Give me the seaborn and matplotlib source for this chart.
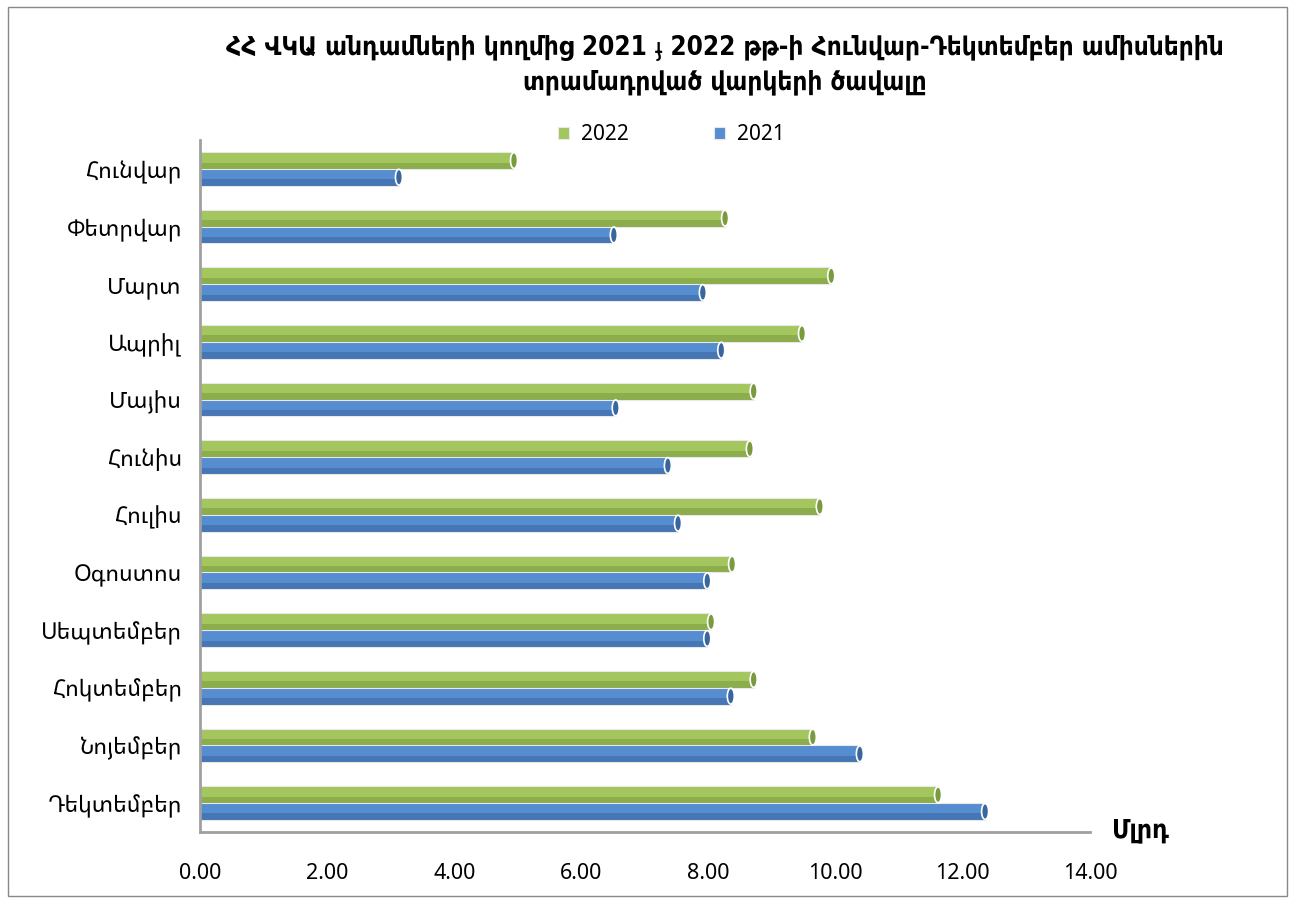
import pandas as pd
import numpy as np
import matplotlib
matplotlib.use("Agg")
import matplotlib.pyplot as plt
import seaborn as sns
from matplotlib.patches import Rectangle, Ellipse

# Data (billions)
months = ["Հունվար", "Փետրվար", "Մարտ", "Ապրիլ", "Մայիս", "Հունիս",
          "Հուլիս", "Օգոստոս", "Սեպտեմբեր", "Հոկտեմբեր", "Նոյեմբեր", "Դեկտեմբեր"]
values_2022 = [4.94, 8.26, 9.93, 9.47, 8.71, 8.65, 9.75, 8.37, 8.04, 8.71, 9.64, 11.61]
values_2021 = [3.13, 6.51, 7.91, 8.20, 6.54, 7.36, 7.52, 7.98, 7.98, 8.35, 10.38, 12.35]
years = ["2022", "2021"]

title_text = ("ՀՀ ՎԿԱ անդամների կողմից 2021 ֈ 2022 թթ-ի Հունվար-Դեկտեմբեր ամիսներին\n"
              "տրամադրված վարկերի ծավալը")
unit_text = "Մլրդ"
x_ticks = [0, 2, 4, 6, 8, 10, 12, 14]

df = pd.DataFrame({
    "month": months * 2,
    "value": values_2022 + values_2021,
    "year": [years[0]] * len(months) + [years[1]] * len(months),
})

sns.set_style("white", {"text.color": "black", "xtick.color": "black",
                        "ytick.color": "black"})
plt.rcParams["font.family"] = ["Noto Sans Armenian", "DejaVu Sans"]
# bold text: Noto Sans Armenian has no bold face here, so use DejaVu condensed bold
bold_family = ["DejaVu Sans", "Noto Sans Armenian"]

fig = plt.figure(figsize=(12.95, 9), dpi=100)
ax = fig.add_axes([0.1544, 0.0756, 0.6873, 0.7688])

base_colors = {"2022": "#A3C65F", "2021": "#568DD0"}
dark_colors = {"2022": "#7A9A3E", "2021": "#3A669E"}
sns.barplot(data=df, x="value", y="month", hue="year", hue_order=years,
            palette=base_colors, orient="h", width=0.58, ax=ax,
            edgecolor="#E8E8E8", linewidth=0.8, saturation=1)

# fake the cylinder look: darker lower strip + end cap on every bar
for year, container in zip(years, ax.containers):
    for bar in container:
        x0, y0 = bar.get_x(), bar.get_y()
        w, h = bar.get_width(), bar.get_height()
        ax.add_patch(Rectangle((x0, y0 + h * 0.62), w, h * 0.38,
                               facecolor=dark_colors[year], edgecolor="none",
                               alpha=0.55, zorder=bar.get_zorder() + 0.1))
        ax.add_patch(Ellipse((x0 + w, y0 + h / 2), 0.11, h * 0.95,
                             facecolor=dark_colors[year], edgecolor="white",
                             linewidth=1.2, zorder=bar.get_zorder() + 0.2))

ax.set_xlim(0, 14)
ax.set_xticks(x_ticks)
ax.set_xticklabels([f"{t:.2f}" for t in x_ticks], fontsize=15.5)
ax.tick_params(axis="x", direction="out", length=8, width=1.2, color="#999999",
               labelcolor="black", pad=14)
ax.tick_params(axis="y", length=0, labelsize=16.5, labelcolor="black", pad=13)
ax.set_xlabel("")
ax.set_ylabel("")

for side in ["top", "right"]:
    ax.spines[side].set_visible(False)
for side in ["left", "bottom"]:
    ax.spines[side].set_color("#A0A0A0")
    ax.spines[side].set_linewidth(2)

ax.legend(loc="center", bbox_to_anchor=(0.53, 1.008), ncol=2,
          frameon=False, fontsize=15, handlelength=0.5, handleheight=0.5,
          columnspacing=4.1, handletextpad=0.6, labelcolor="black")

fig.text(0.56, 0.928, title_text, ha="center", va="center", fontsize=18.7,
         fontweight="bold", fontstretch="condensed", family=bold_family,
         linespacing=1.42, color="black")
fig.text(0.88, 0.077, unit_text, ha="center", va="center", fontsize=19,
         fontweight="bold", fontstretch="condensed", family=bold_family,
         color="black")

fig.patches.append(Rectangle((0.006, 0.004), 0.988, 0.988, transform=fig.transFigure,
                             fill=False, edgecolor="#888888", linewidth=1))

fig.savefig("out.png", dpi=100)
